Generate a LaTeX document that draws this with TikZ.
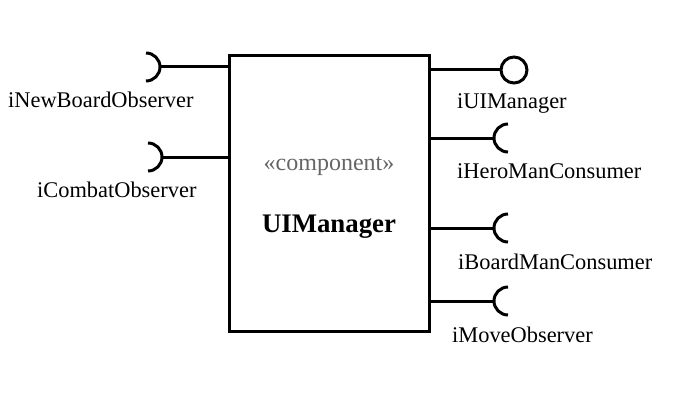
\documentclass[tikz,border=0pt]{standalone}
\usepackage{fontspec}
\setmainfont{Liberation Serif}
\begin{document}
\begin{tikzpicture}[x=1pt,y=1pt,
  lbl/.style={anchor=base west,inner sep=0pt,font=\fontsize{22.4}{26}\selectfont},
  conn/.style={line width=3pt},
  comp/.style={draw,line width=3pt,rectangle,minimum width=200pt,minimum height=275pt,inner sep=0pt}]
\useasboundingbox (0,0) rectangle (694,-420);
\node[comp] (box) at (329,-193.5) {};
\node[anchor=base,inner sep=0pt,text=black!60,font=\fontsize{24}{28}\selectfont] (st) at (329,-170) {«component»};
\node[anchor=base,inner sep=0pt,font=\fontsize{26.8}{30}\selectfont\bfseries] (nm) at (329,-232) {UIManager};
% left sockets
\coordinate (s1) at (160,-67);
\coordinate (s2) at (162,-157);
\draw[conn] (s1) -- (box.west |- s1);
\draw[conn] (s1) ++(-14,14) arc[start angle=90,end angle=-90,radius=14];
\draw[conn] (s2) -- ([xshift=2pt]box.west |- s2);
\draw[conn] (s2) ++(-14,14) arc[start angle=90,end angle=-90,radius=14];
\node[lbl] (l1) at (8,-107) {iNewBoardObserver};
\node[lbl] (l2) at (37,-197) {iCombatObserver};
% lollipop
\node[draw,circle,line width=3pt,minimum size=26pt,inner sep=0pt] (lp) at (514,-70) {};
\draw[conn] (box.east |- lp) -- (lp.west);
\node[lbl] (r1) at (457,-109) {iUIManager};
% right sockets
\coordinate (t1) at (494,-138);
\coordinate (t2) at (494,-228);
\coordinate (t3) at (494,-301);
\draw[conn] ([xshift=-2pt]box.east |- t1) -- (t1);
\draw[conn] (t1) ++(14,14) arc[start angle=90,end angle=270,radius=14];
\draw[conn] ([xshift=-2pt]box.east |- t2) -- (t2);
\draw[conn] (t2) ++(14,14) arc[start angle=90,end angle=270,radius=14];
\draw[conn] (box.east |- t3) -- (t3);
\draw[conn] (t3) ++(14,14) arc[start angle=90,end angle=270,radius=14];
\node[lbl] (r2) at (457,-178) {iHeroManConsumer};
\node[lbl] (r3) at (458,-269) {iBoardManConsumer};
\node[lbl] (r4) at (452,-342) {iMoveObserver};
\end{tikzpicture}
\end{document}
